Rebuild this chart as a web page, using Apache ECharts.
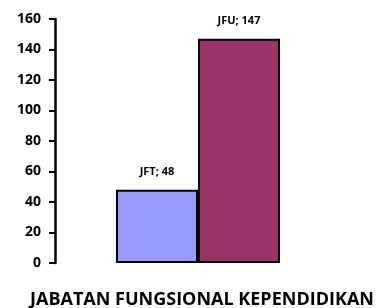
<!DOCTYPE html>
<html>
<head>
<meta charset="utf-8">
<script src="https://cdn.jsdelivr.net/npm/echarts@6/dist/echarts.min.js"></script>
<style>
  html, body { margin: 0; padding: 0; background: #fff; }
  #main { width: 379px; height: 308px; }
</style>
</head>
<body>
<div id="main"></div>
<script>
var seriesNames = ['JFT', 'JFU'];
var seriesValues = [48, 147];
var barColors = ['#9999FF', '#993366'];
var yTicks = [0, 20, 40, 60, 80, 100, 120, 140, 160];
var chartTitle = 'JABATAN FUNGSIONAL KEPENDIDIKAN';

var chart = echarts.init(document.getElementById('main'));

var series = seriesNames.map(function (name, i) {
  return {
    name: name,
    type: 'bar',
    data: [seriesValues[i]],
    barWidth: 82,
    barGap: '0%',
    itemStyle: { color: barColors[i], borderColor: '#000', borderWidth: 2 },
    label: {
      show: true,
      position: 'top',
      distance: 12,
      formatter: '{a}; {c}',
      color: '#000',
      fontWeight: 'bold',
      fontSize: 11,
      fontFamily: 'Open Sans'
    }
  };
});

var option = {
  backgroundColor: '#fff',
  animation: false,
  title: {
    text: chartTitle,
    left: 197,
    textAlign: 'center',
    bottom: -6,
    textStyle: { color: '#000', fontWeight: 'bold', fontSize: 18, fontFamily: 'Open Sans' }
  },
  grid: { left: 55, right: 38, top: 19, bottom: 45 },
  xAxis: {
    type: 'category',
    data: [''],
    axisLine: { show: false },
    axisTick: { show: false },
    axisLabel: { show: false }
  },
  yAxis: {
    type: 'value',
    min: yTicks[0],
    max: yTicks[yTicks.length - 1],
    interval: yTicks[1] - yTicks[0],
    axisLine: { show: true, lineStyle: { color: '#000', width: 2.5 } },
    axisTick: { show: true, length: 6, lineStyle: { color: '#000', width: 2 } },
    splitLine: { show: false },
    axisLabel: { color: '#000', fontWeight: 'bold', fontSize: 14, fontFamily: 'Open Sans', margin: 14 }
  },
  series: series
};

chart.setOption(option);
</script>
</body>
</html>
